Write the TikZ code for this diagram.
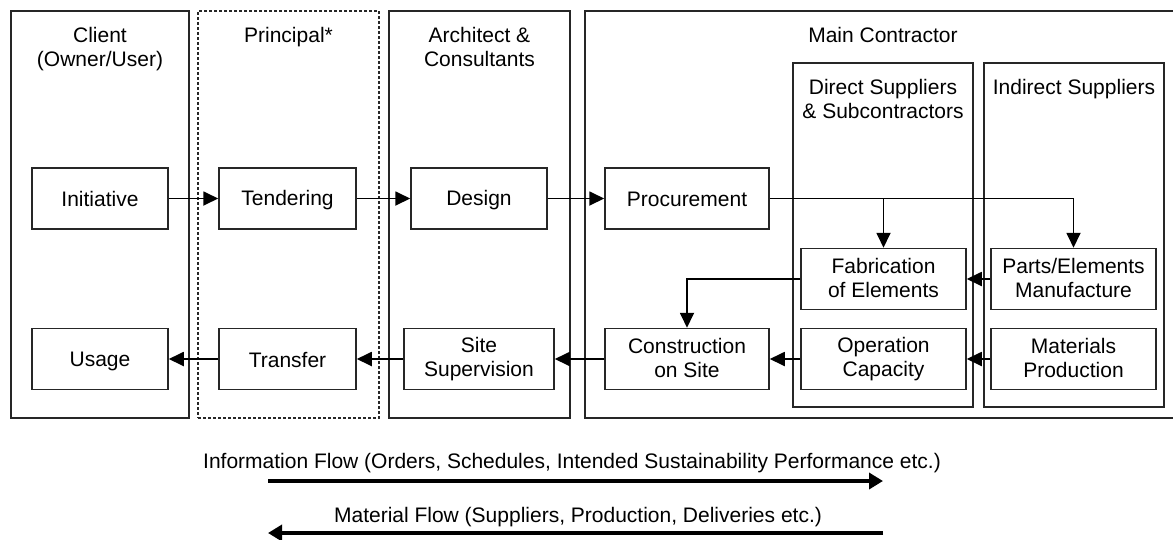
\documentclass[tikz,border=0pt]{standalone}
\usepackage{fontspec}
\setmainfont{Liberation Sans}
\usetikzlibrary{arrows.meta, positioning}

\begin{document}
\begin{tikzpicture}[
    x=1pt, y=-1pt,
    font=\fontsize{21}{24}\selectfont,
    lane/.style={rectangle, draw=black!85, line width=1.5pt, inner sep=0pt},
    task/.style={rectangle, draw=black!85, line width=1.5pt, align=center, inner sep=0pt, minimum height=61,
        execute at begin node={\rule[-3pt]{0pt}{22pt}}, execute at end node={\rule[-3pt]{0pt}{16pt}}},
    head/.style={anchor=north, align=center, inner sep=0pt, yshift=-17},
    arr/.style={-{Triangle[length=15pt, width=14pt]}, line width=1.8pt},
    flow/.style={-{Triangle[length=14pt, width=16pt]}, line width=4pt}
]
\useasboundingbox (0,0) rectangle (1173,539);

\node[lane, minimum width=178, minimum height=407] (client) at (100,214.5) {};
\node[lane, minimum width=181, minimum height=407, dash pattern=on 3pt off 2pt] (principal) at (288.5,214.5) {};
\node[lane, minimum width=181, minimum height=407] (architect) at (479.5,214.5) {};
\node[lane, minimum width=589, minimum height=407] (main) at (879.5,214.5) {};
\node[lane, minimum width=180, minimum height=344] (direct) at (883,235) {};
\node[lane, minimum width=180, minimum height=344] (indirect) at (1074,235) {};

\node[head] (clienthead) at (client.north) {Client\\(Owner/User)};
\node[head] (principalhead) at (principal.north) {Principal*};
\node[head] (architecthead) at (architect.north) {Architect \&\\Consultants};
\node[head] (mainhead) at (direct.north |- main.north) {Main Contractor};
\node[head] (directhead) at (direct.north) {Direct Suppliers\\\& Subcontractors};
\node[head] (indirecthead) at (indirect.north) {Indirect Suppliers};

\node[task, minimum width=136] (initiative) at (100,198.5) {Initiative};
\node[task, minimum width=136] (usage) at (100,359) {Usage};
\node[task, minimum width=137] (tendering) at (287.5,198.5) {Tendering};
\node[task, minimum width=137] (transfer) at (287.5,359) {Transfer};
\node[task, minimum width=136] (design) at (479,198.5) {Design};
\node[task, minimum width=150] (supervision) at (479,359) {Site\\Supervision};
\node[task, minimum width=164] (procurement) at (687,198.5) {Procurement};
\node[task, minimum width=164] (construction) at (687,359) {Construction\\on Site};
\node[task, minimum width=165] (fabrication) at (883.5,279) {Fabrication\\of Elements};
\node[task, minimum width=165] (operation) at (883.5,359) {Operation\\Capacity};
\node[task, minimum width=165] (parts) at (1073.5,279) {Parts/Elements\\Manufacture};
\node[task, minimum width=165] (materials) at (1073.5,359) {Materials\\Production};

\foreach \a/\b in {initiative/tendering, tendering/design, design/procurement} {
    \draw[arr] (\a.east) -- (\b.west);
}
\draw[arr] (procurement.east) -| (parts.north);
\draw[arr] (procurement.east -| fabrication.north) -- (fabrication.north);
\draw[arr] (parts.west) -- (fabrication.east);
\draw[arr] (fabrication.west) -| (construction.north);
\foreach \a/\b in {materials/operation, operation/construction, construction/supervision, supervision/transfer, transfer/usage} {
    \draw[arr] (\a.west) -- (\b.east);
}

\node[anchor=base] (infotext) at (572,468) {Information Flow (Orders, Schedules, Intended Sustainability Performance etc.)};
\coordinate (infoL) at (268,481);
\coordinate (infoR) at (883,481);
\draw[flow] (infoL) -- (infoR);

\node[anchor=base] (mattext) at (578,522) {Material Flow (Suppliers, Production, Deliveries etc.)};
\coordinate (matL) at (268,533);
\coordinate (matR) at (883,533);
\draw[flow] (matR) -- (matL);
\end{tikzpicture}
\end{document}
